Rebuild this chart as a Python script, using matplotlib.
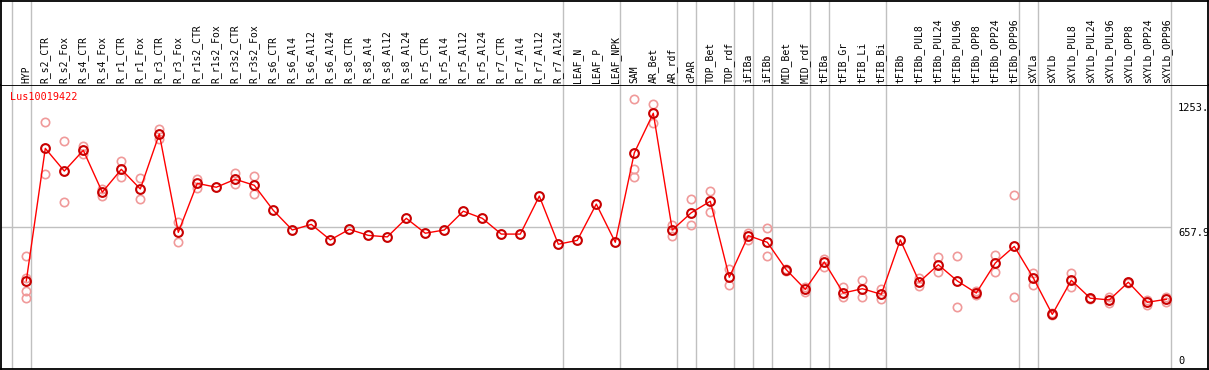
"""
Expression profile of one gene across tissues / treatments.
Saves out.png (Agg backend).
"""
import matplotlib
matplotlib.use("Agg")
import matplotlib.pyplot as plt

gene = "Lus10019422"

categories = [
    "HYP", "R_s2_CTR", "R_s2_Fox", "R_s4_CTR", "R_s4_Fox", "R_r1_CTR",
    "R_r1_Fox", "R_r3_CTR", "R_r3_Fox", "R_r1s2_CTR", "R_r1s2_Fox",
    "R_r3s2_CTR", "R_r3s2_Fox", "R_s6_CTR", "R_s6_Al4", "R_s6_Al12",
    "R_s6_Al24", "R_s8_CTR", "R_s8_Al4", "R_s8_Al12", "R_s8_Al24",
    "R_r5_CTR", "R_r5_Al4", "R_r5_Al12", "R_r5_Al24", "R_r7_CTR",
    "R_r7_Al4", "R_r7_Al12", "R_r7_Al24", "LEAF_N", "LEAF_P", "LEAF_NPK",
    "SAM", "AR_Bet", "AR_rdf", "cPAR", "TOP_Bet", "TOP_rdf", "iFIBa",
    "iFIBb", "MID_Bet", "MID_rdf", "tFIBa", "tFIB_Gr", "tFIB_Li",
    "tFIB_Bi", "tFIBb", "tFIBb_PUL8", "tFIBb_PUL24", "tFIBb_PUL96",
    "tFIBb_OPP8", "tFIBb_OPP24", "tFIBb_OPP96", "sXYLa", "sXYLb",
    "sXYLb_PUL8", "sXYLb_PUL24", "sXYLb_PUL96", "sXYLb_OPP8",
    "sXYLb_OPP24", "sXYLb_OPP96",
]

# mean expression per sample
means = [
    408, 1022, 917, 1013, 819, 925, 834, 1089, 633, 860, 842, 879, 851,
    735, 644, 670, 598, 647, 619, 612, 698, 629, 644, 731, 698, 625, 625,
    801, 578, 596, 764, 587,
    1001, 1185, 644, 724, 777, 425, 618, 587, 460, 369, 496, 352, 372,
    346, 598, 403, 483, 408, 352, 491, 568, 422, 253, 411, 328, 320, 402,
    309, 323,
]

# individual replicate values (empty where only the mean is shown)
replicates = [
    [524, 423, 361, 328], [1143, 902], [1056, 772], [1035, 997],
    [833, 801], [964, 888], [883, 788], [1112, 1064], [681, 587],
    [882, 837], [], [907, 856], [893, 809],
    [], [], [], [], [], [], [], [], [], [], [], [], [], [], [], [],
    [], [], [],
    [1253, 925, 888], [1226, 1141], [667, 618], [786, 669], [823, 726],
    [463, 391], [629, 598], [653, 522], [465, 455], [381, 357],
    [508, 473], [381, 332], [411, 332], [371, 323], [], [420, 385],
    [518, 449], [525, 286], [360, 345], [527, 449], [805, 332],
    [443, 391], [258, 249], [445, 381], [330, 325], [332, 307],
    [404, 399], [320, 298], [335, 310],
]

# last sample index of each group (grey separators drawn after these)
group_ends = [-1, 0, 28, 31, 34, 35, 37, 38, 39, 41, 42, 45, 52, 53, 60]

y_top_label = 1253.0
y_mid = 657.9

W, H = 1209, 370
fig = plt.figure(figsize=(W / 100, H / 100), dpi=100)

# pixel geometry of the sample columns
x0_px, dx_px = 26.3, 19.0
xlim = ((1 - x0_px) / dx_px, (1208 - x0_px) / dx_px)
grid_c = "#c0c0c0"
mono = "DejaVu Sans Mono"

ax = fig.add_axes([1 / W, 1 / H, 1207 / W, 284 / H])
hd = fig.add_axes([1 / W, (H - 85) / H, 1207 / W, 84 / H])

for a in (ax, hd):
    a.set_xlim(*xlim)
    a.set_xticks([])
    a.set_yticks([])
    for s in a.spines.values():
        s.set_linewidth(1.3)
        s.set_color("black")
    for g in group_ends:
        a.axvline(g + 0.23, color=grid_c, lw=1, zorder=0)
hd.spines["bottom"].set_visible(False)
hd.set_ylim(0, 1)
ax.set_ylim(0, y_top_label * 1.05)

# header: rotated sample names
for i, name in enumerate(categories):
    hd.text(i, 0.025, name, rotation=90, ha="center", va="bottom",
            fontsize=7, family=mono, transform=hd.get_xaxis_transform())

# reference line at half scale
ax.hlines(y_mid, xlim[0], group_ends[-1] + 0.23, color=grid_c, lw=1, zorder=0)

xs = list(range(len(categories)))
for i, reps in enumerate(replicates):
    if reps:
        ax.plot([i] * len(reps), reps, "o", ms=6, mfc="none",
                mec="#f09a9a", mew=1.2, zorder=2)
ax.plot(xs, means, "-", color="#ff0000", lw=1, zorder=3)
ax.plot(xs, means, "o", ms=6.3, mfc="none", mec="#c80000", mew=1.5,
        zorder=4)

# scale labels on the right
lab_x = (1178 - x0_px) / dx_px
ax.annotate(f"{y_top_label:.0f}.", (lab_x, y_top_label), xytext=(0, -4),
            textcoords="offset pixels", ha="left", va="top",
            fontsize=7.5, family=mono, annotation_clip=False)
ax.annotate(f"{y_mid}", (lab_x, y_mid), xytext=(0, -1),
            textcoords="offset pixels", ha="left", va="top",
            fontsize=7.5, family=mono, annotation_clip=False)
ax.annotate("0", (lab_x, 0), xytext=(0, 3), textcoords="offset pixels",
            ha="left", va="bottom", fontsize=7.5, family=mono)

fig.text(10 / W, (H - 97) / H, gene, color="#ff0000", fontsize=7.3,
         family=mono, ha="left", va="center")

fig.savefig("out.png", dpi=100)
plt.close(fig)
